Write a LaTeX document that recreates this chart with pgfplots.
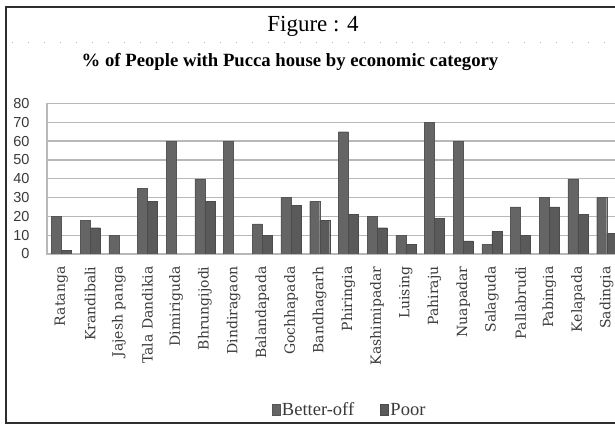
\documentclass[border=0pt]{standalone}
\usepackage{fontspec}
\setmainfont{Liberation Serif}
\newfontfamily\arialfont{Liberation Sans}
\newfontfamily\labfont{DejaVu Serif}
\usepackage{pgfplots}
\pgfplotsset{compat=1.18}
\definecolor{barA}{HTML}{656565}
\definecolor{barB}{HTML}{5A5A5A}
\definecolor{gridc}{HTML}{B8B8B8}
\definecolor{framec}{HTML}{2E2E2E}
\definecolor{labc}{HTML}{3A3A3A}

\begin{document}
\begin{tikzpicture}[x=1pt,y=1pt]
\useasboundingbox (0,0) rectangle (615,425);
\clip (0,0) rectangle (615,425);
\fill[white] (0,0) rectangle (615,425);
% outer frame of the figure box
\draw[framec, line width=2pt] (6,2) rectangle (680,418);
\draw[gray!60, line width=0.9pt, dash pattern=on 1pt off 15pt] (12,383) -- (615,383);
\node[font=\fontsize{23}{25}\selectfont, anchor=base, inner sep=0pt] at (313,393) {Figure : 4};
\node[font=\bfseries\fontsize{18.7}{20}\selectfont, anchor=base, inner sep=0pt] at (290,358) {\% of People with Pucca house by economic category};
\begin{axis}[
  at={(47pt,171pt)}, anchor=south west,
  scale only axis, width=602.7pt, height=150.5pt,
  xmin=-0.5, xmax=20.5, ymin=0, ymax=80,
  ytick={0,10,...,80},
  xtick={0,...,19},
  xticklabels={Ratanga,Krandibali,Jajesh panga,Tala Dandikia,Dimiriguda,Bhrungijodi,Dindiragaon,Balandapada,Gochhapada,Bandhagarh,Phiringia,Kashimipadar,Luising,Pahiraju,Nuapadar,Salaguda,Pallabrudi,Pabingia,Kelapada,Sadingia},
  xticklabel style={rotate=90, anchor=east, font=\labfont\fontsize{14}{15}\selectfont, text=labc},
  xticklabel shift=9pt,
  yticklabel style={font=\arialfont\fontsize{14.5}{15}\selectfont, text=labc, xshift=-14pt},
  /pgf/number format/assume math mode=true,
  ybar=0pt, bar width=10pt,
  ymajorgrids, grid style={gridc, line width=1.3pt},
  axis line style={gridc, line width=1.3pt},
  major tick length=0pt,
  legend columns=2,
  legend style={at={(0.502,-1.0365)}, anchor=center, draw=none, fill=none,
    font=\fontsize{18.5}{20}\selectfont, text=labc,
    /tikz/every even column/.append style={column sep=24pt}},
  legend image code/.code={\fill[#1] (0pt,-5pt) rectangle (8pt,6pt);},
]
\addplot[fill=barA, draw=barA!85!black, line width=0.3pt] coordinates {
 (0,20) (1,18) (2,10) (3,35) (4,60) (5,40) (6,60) (7,16) (8,30) (9,28)
 (10,65) (11,20) (12,10) (13,70) (14,60) (15,5) (16,25) (17,30) (18,40) (19,30)};
\addplot[fill=barB, draw=barB!85!black, line width=0.3pt] coordinates {
 (0,2) (1,14) (3,28) (5,28) (7,10) (8,26) (9,18)
 (10,21) (11,14) (12,5) (13,19) (14,7) (15,12) (16,10) (17,25) (18,21) (19,11)};
\legend{Better-off,Poor}
\end{axis}
\end{tikzpicture}
\end{document}
